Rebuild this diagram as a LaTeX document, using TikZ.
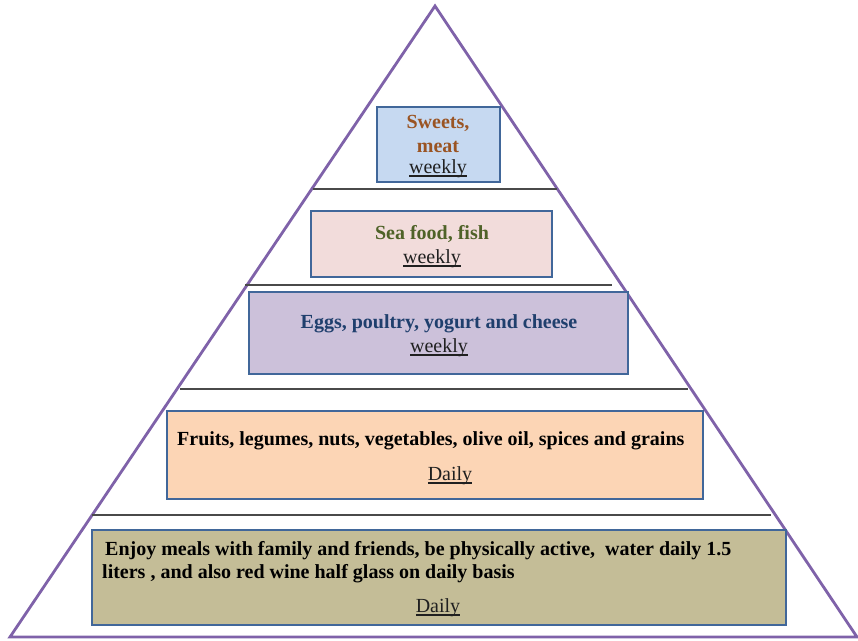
\documentclass[tikz,border=0pt]{standalone}
\usepackage{fontspec}
\setmainfont{Liberation Serif}
\definecolor{tri}{HTML}{7F62A9}
\definecolor{boxline}{HTML}{41679A}
\definecolor{sepline}{HTML}{4A4A4A}
\definecolor{fillA}{HTML}{C6D9F1}
\definecolor{fillB}{HTML}{F2DCDB}
\definecolor{fillC}{HTML}{CCC1DA}
\definecolor{fillD}{HTML}{FCD5B5}
\definecolor{fillE}{HTML}{C4BD97}
\definecolor{txtA}{HTML}{9A5423}
\definecolor{txtB}{HTML}{4F6228}
\definecolor{txtC}{HTML}{1F3F6D}
\definecolor{txtU}{HTML}{202020}
\newcommand{\ulin}[1]{\setbox0\hbox{#1}\rlap{\copy0}\raisebox{-3.8pt}{\rule{\wd0}{1.6pt}}}
\begin{document}
\begin{tikzpicture}[x=1pt,y=-1pt,
  tier/.style={draw=boxline,line width=2.2pt},
  sep/.style={draw=sepline,line width=1.1pt},
  lbl/.style={anchor=base,inner sep=0pt,font=\fontsize{20}{24}\selectfont\bfseries},
  freq/.style={anchor=base,inner sep=0pt,font=\fontsize{20}{24}\selectfont,text=txtU}]
\useasboundingbox (0,0) rectangle (858,640);
% pyramid
\coordinate (apex) at (435,6);
\coordinate (bl) at (10,637);
\coordinate (br) at (857,637);
\draw[tri,line width=2.8pt,line join=miter] (apex) -- (br) -- (bl) -- cycle;
% separators
\coordinate (s1l) at (313,189); \coordinate (s1r) at (557,189);
\coordinate (s2l) at (245,285); \coordinate (s2r) at (612,285);
\coordinate (s3l) at (180,389); \coordinate (s3r) at (688,389);
\coordinate (s4l) at (92,515);  \coordinate (s4r) at (771,515);
\draw[sep] (s1l) -- (s1r);
\draw[sep] (s2l) -- (s2r);
\draw[sep] (s3l) -- (s3r);
\draw[sep] (s4l) -- (s4r);
% boxes
\draw[tier,fill=fillA] (377,107) rectangle (500,182);
\draw[tier,fill=fillB] (311,211) rectangle (552,277);
\draw[tier,fill=fillC] (249,292) rectangle (628,374);
\draw[tier,fill=fillD] (167,411) rectangle (703,499);
\draw[tier,fill=fillE] (92,530) rectangle (786,625);
% texts
\node[lbl,text=txtA] (t1a) at (438,128) {Sweets,};
\node[lbl,text=txtA] (t1b) at (438,152) {meat};
\node[freq] (t1c) at (438,173) {\ulin{weekly}};
\node[lbl,text=txtB] (t2a) at (432,239) {Sea food, fish};
\node[freq] (t2b) at (432,263) {\ulin{weekly}};
\node[lbl,text=txtC] (t3a) at (439,328) {Eggs, poultry, yogurt and cheese};
\node[freq] (t3b) at (439,352) {\ulin{weekly}};
\node[lbl,anchor=base west] (t4a) at (177,445) {Fruits, legumes, nuts, vegetables, olive oil, spices and grains};
\node[freq] (t4b) at (450,480) {\ulin{Daily}};
\node[lbl,anchor=base west] (t5a) at (105,555) {Enjoy meals with family and friends, be physically active,\ \ water daily 1.5};
\node[lbl,anchor=base west] (t5b) at (102,578) {liters , and also red wine half glass on daily basis};
\node[freq] (t5c) at (438,612) {\ulin{Daily}};
\end{tikzpicture}
\end{document}
